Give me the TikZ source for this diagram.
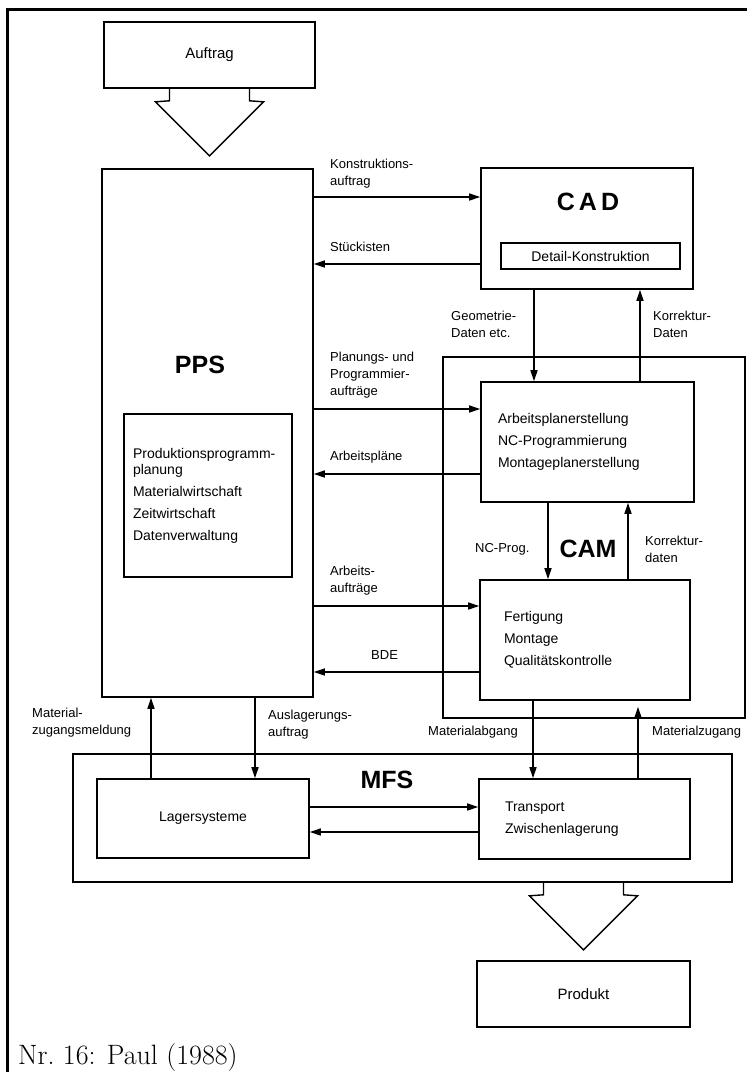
\documentclass[tikz,border=0pt]{standalone}
\usepackage{fontspec}
\setsansfont{Liberation Sans}
\usetikzlibrary{arrows.meta}
\newcommand{\fatarrow}[1]{\draw[line width=1.4pt] ([xshift=-40pt]#1) -- ++(0,12) -- ++(-14,1) -- ++(54,54) -- ++(54,-54) -- ++(-14,-1) -- ++(0,-12);}

\begin{document}
\begin{tikzpicture}[x=1pt, y=-1pt, >={Triangle[length=11pt,width=7pt]},
  box/.style={draw, line width=1.6pt, inner sep=0pt},
  lbl/.style={font=\sffamily\fontsize{13}{17}\selectfont, align=left, inner sep=0pt, anchor=west},
  boxtext/.style={font=\sffamily\fontsize{14}{22}\selectfont, align=left},
  title/.style={font=\sffamily\bfseries\fontsize{25}{25}\selectfont, inner sep=0pt},
  flow/.style={->, line width=1.5pt}]
\useasboundingbox (0,0) rectangle (747,1072);
\draw[line width=3pt] (7,1072) -- (7,9) -- (747,9);
\node[box, minimum width=211pt, minimum height=66pt, font=\sffamily\fontsize{15}{18}\selectfont] (auftrag) at (209.5,55) {Auftrag};
\node[box, minimum width=211pt, minimum height=528pt] (pps) at (207.5,433) {};
\node[title] (tpps) at (200,365) {PPS};
\node[box, boxtext, text width=150pt, inner xsep=9pt, minimum height=163pt] (ppsin) at (208,495.5) {Produktionsprogramm-\\[-6pt]planung\\Materialwirtschaft\\Zeitwirtschaft\\Datenverwaltung};
\node[box, minimum width=212pt, minimum height=121pt] (cad) at (587,228.5) {};
\node[title] (tcad) at (588,202) {C\,A\,D};
\node[box, minimum width=179pt, minimum height=26pt, font=\sffamily\fontsize{14}{17}\selectfont] (detail) at (590.5,256) {Detail-Konstruktion};
\node[box, minimum width=302pt, minimum height=361pt] (cam) at (594,537.5) {};
\node[box, boxtext, text width=179pt, inner xsep=17pt, minimum height=120pt] (plan) at (587.5,442) {Arbeitsplanerstellung\\NC-Programmierung\\Montageplanerstellung};
\node[box, boxtext, text width=162pt, inner xsep=24pt, minimum height=120pt] (fert) at (585,640) {Fertigung\\Montage\\Qualitätskontrolle};
\node[title] (tcam) at (588,549) {CAM};
\node[box, minimum width=659pt, minimum height=128pt] (mfs) at (402.5,818) {};
\node[title] (tmfs) at (387,780) {MFS};
\node[box, minimum width=212pt, minimum height=79pt, font=\sffamily\fontsize{14}{17}\selectfont] (lager) at (203,818.5) {Lagersysteme};
\node[box, boxtext, text width=159pt, inner xsep=26pt, minimum height=80pt] (trans) at (584.5,819) {Transport\\Zwischenlagerung};
\node[box, minimum width=213pt, minimum height=66pt, font=\sffamily\fontsize{15}{18}\selectfont] (produkt) at (583.5,994) {Produkt};

\coordinate (rkon) at (0,197);
\coordinate (rstue) at (0,264);
\coordinate (rplan) at (0,409);
\coordinate (rapl) at (0,474);
\coordinate (rauf) at (0,606);
\coordinate (rbde) at (0,672);
\coordinate (rhin) at (0,807);
\coordinate (rher) at (0,832);
\coordinate (cgeo) at (534,0);
\coordinate (ckor) at (640,0);
\coordinate (cnc) at (548,0);
\coordinate (ckd) at (628,0);
\coordinate (cmab) at (533,0);
\coordinate (cmzu) at (638,0);
\coordinate (cmzm) at (151,0);
\coordinate (causl) at (255,0);

\draw[flow] (pps.east |- rkon) -- (cad.west |- rkon);
\draw[flow] (cad.west |- rstue) -- (pps.east |- rstue);
\draw[flow] (pps.east |- rplan) -- (plan.west |- rplan);
\draw[flow] (plan.west |- rapl) -- (pps.east |- rapl);
\draw[flow] (pps.east |- rauf) -- (fert.west |- rauf);
\draw[flow] (fert.west |- rbde) -- (pps.east |- rbde);
\draw[flow] (cad.south -| cgeo) -- (plan.north -| cgeo);
\draw[flow] (plan.north -| ckor) -- (cad.south -| ckor);
\draw[flow] (plan.south -| cnc) -- (fert.north -| cnc);
\draw[flow] (fert.north -| ckd) -- (plan.south -| ckd);
\draw[flow] (fert.south -| cmab) -- (trans.north -| cmab);
\draw[flow, shorten >=6pt] (trans.north -| cmzu) -- (fert.south -| cmzu);
\draw[flow] (lager.north -| cmzm) -- (pps.south -| cmzm);
\draw[flow] (pps.south -| causl) -- (lager.north -| causl);
\draw[flow] (lager.east |- rhin) -- (trans.west |- rhin);
\draw[flow] (trans.west |- rher) -- (lager.east |- rher);

\fatarrow{auftrag.south}
\coordinate (outtop) at (mfs.south -| produkt.north);
\fatarrow{outtop}

\node[lbl] (lkon) at (330,174) {Konstruktions-\\auftrag};
\node[lbl] (lstue) at (330,247) {Stückisten};
\node[lbl] (lplan) at (330,375) {Planungs- und\\Programmier-\\aufträge};
\node[lbl] (lapl) at (330,457) {Arbeitspläne};
\node[lbl] (lauf) at (330,581) {Arbeits-\\aufträge};
\node[lbl] (lbde) at (371,655) {BDE};
\node[lbl] (lgeo) at (451,324) {Geometrie-\\Daten etc.};
\node[lbl] (lkor) at (653,324) {Korrektur-\\Daten};
\node[lbl] (lnc) at (475,549) {NC-Prog.};
\node[lbl] (lkd) at (645,549) {Korrektur-\\daten};
\node[lbl] (lmzm) at (32,723) {Material-\\zugangsmeldung};
\node[lbl] (lausl) at (268,725) {Auslagerungs-\\auftrag};
\node[lbl] (lmab) at (428,732) {Materialabgang};
\node[lbl] (lmzu) at (652,732) {Materialzugang};

\node[anchor=base west, inner sep=0pt, font=\fontsize{28}{30}\selectfont] (caption) at (18,1064) {Nr.~16: Paul (1988)};
\end{tikzpicture}
\end{document}
